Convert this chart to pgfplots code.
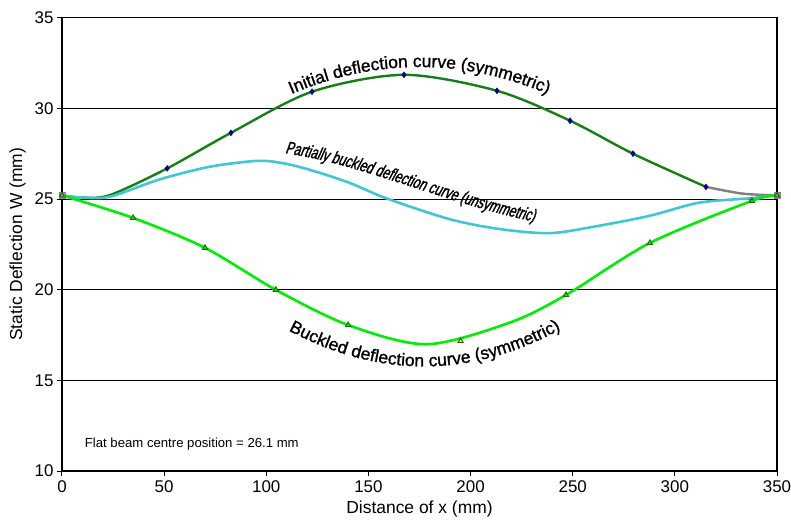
\documentclass[border=0pt]{standalone}
\usepackage{fontspec}
\setmainfont{Liberation Sans}
\newfontfamily\capfont[FakeBold=1.2]{Liberation Sans}
\newfontfamily\pbfont[FakeSlant=0.2,FakeStretch=0.7,FakeBold=1.4]{Liberation Sans}
\usepackage{pgfplots}
\pgfplotsset{compat=1.18}
\usetikzlibrary{decorations.text}

\definecolor{initgreen}{RGB}{20,128,20}
\definecolor{bucklegreen}{RGB}{0,238,0}
\definecolor{partcyan}{RGB}{64,200,210}
\definecolor{markblue}{RGB}{0,0,140}
\definecolor{tridark}{RGB}{30,110,0}
\definecolor{endgrey}{RGB}{150,150,170}

\begin{document}
\begin{tikzpicture}
\begin{axis}[
  scale only axis,
  width=715bp, height=453.3bp,
  xmin=0, xmax=350, ymin=10, ymax=35,
  xtick={0,50,...,350}, ytick={10,15,...,35},
  xtick pos=lower, ytick pos=left,
  tick align=outside, major tick length=5bp,
  tick style={black, line width=1bp},
  ymajorgrids, grid style={black, line width=0.8bp},
  axis line style={black, line width=1.4bp},
  /pgf/number format/assume math mode=true,
  ticklabel style={font=\fontsize{17}{20}\selectfont},
  xticklabel style={yshift=-1bp},
  label style={font=\fontsize{17.5}{20}\selectfont},
  xlabel style={yshift=-2bp},
  ylabel style={yshift=2bp},
  xlabel={Distance of x (mm)},
  ylabel={Static Deflection W (mm)},
]
\coordinate (ll) at (rel axis cs:0,0);
\coordinate (ur) at (rel axis cs:1,1);

% Initial deflection curve (symmetric)
\addplot[initgreen, line width=2.4bp, smooth] coordinates {
  (0,25.2) (10,25.08) (23.5,25.22) (51.5,26.69) (82.7,28.65) (122.4,30.92)
  (167.4,31.85) (212.9,30.97) (248.7,29.32) (279.5,27.5) (315.2,25.67)
};
\addplot[gray, line width=2.4bp, smooth] coordinates {
  (315.2,25.67) (333,25.3) (350,25.2)
};
\addplot[only marks, mark=diamond*, mark size=3bp, mark options={fill=markblue, draw=markblue}] coordinates {
  (51.5,26.69) (82.7,28.65) (122.4,30.92) (167.4,31.85) (212.9,30.97)
  (248.7,29.32) (279.5,27.5) (315.2,25.67)
};

% Partially buckled deflection curve (unsymmetric)
\addplot[partcyan, line width=2.6bp, smooth] coordinates {
  (0,25.2) (10,25.08) (23.5,25.13) (48,26.09) (72.4,26.78) (95,27.1)
  (107,27.0) (121,26.62) (140.6,25.9) (158.5,25.05) (189.4,23.9) (213.8,23.35)
  (238.9,23.12) (262.6,23.52) (287.8,24.08) (312,24.8) (336.8,25.04) (350,25.2)
};

% Buckled deflection curve (symmetric)
\addplot[bucklegreen, line width=2.6bp, smooth] coordinates {
  (0,25.2) (34.8,23.96) (70,22.31) (104.7,19.99) (140.1,18.05) (178.5,16.99)
  (219.3,18.19) (246.7,19.71) (287.8,22.58) (337.7,24.9) (350,25.2)
};
\addplot[only marks, mark=square*, mark size=3bp, mark options={fill=endgrey, draw=gray}] coordinates {
  (0,25.2) (350,25.2)
};
\addplot[only marks, mark=triangle, mark size=3bp, mark options={draw=tridark, line width=1bp}] coordinates {
  (0,25.2) (34.8,23.96) (70,22.31) (104.7,19.99) (140.1,18.05)
  (195.1,17.17) (246.7,19.71) (287.8,22.58) (337.7,24.9) (350,25.2)
};

% Baselines for the curve captions (single Bezier arcs)
\coordinate (a1) at (axis cs:95,29.85);
\coordinate (ac1) at (axis cs:148.3,33.09);
\coordinate (ac2) at (axis cs:201.7,33.09);
\coordinate (a2) at (axis cs:255,29.85);

\coordinate (p1) at (axis cs:95,27.62);
\coordinate (pc1) at (axis cs:135,27.7);
\coordinate (pc2) at (axis cs:195,24.2);
\coordinate (p2) at (axis cs:245,23.5);

\coordinate (b1) at (axis cs:90,19.2);
\coordinate (bc1) at (axis cs:148.3,14.6);
\coordinate (bc2) at (axis cs:206.7,14.62);
\coordinate (b2) at (axis cs:265,19.28);

\node[anchor=base west, font=\fontsize{13.2}{15}\selectfont]
  at (axis cs:9.5,11.27) {Flat beam centre position = 26.1 mm};
\end{axis}

\path[decorate, decoration={text along path, text align=center,
  text={|\capfont\fontsize{17.5}{20}\selectfont|Initial deflection curve (symmetric)}}]
  (a1) .. controls (ac1) and (ac2) .. (a2);

\path[decorate, decoration={text along path, text align=center,
  text={|\pbfont\fontsize{17.5}{20}\selectfont|Partially buckled deflection curve (unsymmetric)}}]
  (p1) .. controls (pc1) and (pc2) .. (p2);

\path[decorate, decoration={text along path, text align=center,
  text={|\capfont\fontsize{17.5}{20}\selectfont|Buckled deflection curve (symmetric)}}]
  (b1) .. controls (bc1) and (bc2) .. (b2);

\pgfresetboundingbox
\path ([xshift=-62bp,yshift=-51bp]ll) rectangle ([xshift=14bp,yshift=17.7bp]ur);
\end{tikzpicture}
\end{document}
